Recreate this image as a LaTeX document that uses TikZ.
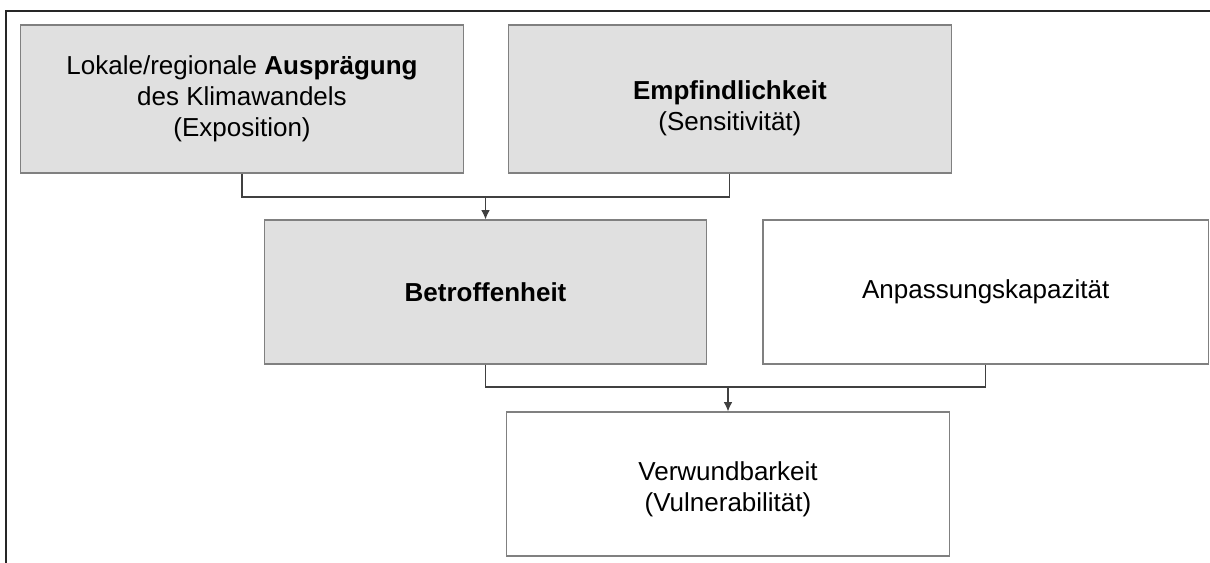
\documentclass[tikz,border=0pt]{standalone}
\usepackage{fontspec}
\setmainfont{Liberation Sans}
\usepackage{tikz}
\usetikzlibrary{positioning}
\usetikzlibrary{arrows.meta}

\definecolor{boxgrey}{RGB}{224,224,224}
\definecolor{rimgrey}{RGB}{128,128,128}
\definecolor{linegrey}{RGB}{64,64,64}

\begin{document}
\begin{tikzpicture}[x=0.75pt,y=-0.75pt,>={Latex[length=7pt,width=6.5pt]},
	font=\fontsize{19.5}{23.25}\selectfont,
	main node/.style={rectangle,draw=rimgrey,line width=0.9pt,align=center,
		minimum width=332pt,minimum height=108pt,inner sep=0pt},
	grey node/.style={main node,fill=boxgrey},
	link/.style={draw=linegrey,line width=0.9pt}]
	
	\useasboundingbox (0,0) rectangle (1210,563);
	\draw[line width=1.5pt,black!85] (6,563) |- (1210,11);
	
	\node[grey node,minimum height=111pt] (expo) at (242,99)
		{Lokale/regionale \textbf{Ausprägung}\\des Klimawandels\\(Exposition)};
	% taller first line pushes the two lines a bit down
	\node[grey node,minimum height=111pt] (sens) [right=33pt of expo]
		{\rule{0pt}{28pt}\textbf{Empfindlichkeit}\\(Sensitivität)};
	\node[grey node] (betr) at (485.5,292) {\textbf{Betroffenheit}};
	\node[main node,minimum width=334pt] (anp) [right=41.25pt of betr] {Anpassungskapazität};
	\node[main node] (verw) at (728,484) {\rule{0pt}{21.5pt}Verwundbarkeit\\(Vulnerabilität)};
	
	\coordinate (top join) at (485.5,197);
	\coordinate (bottom join) at (728,387);
	
	\path[link]
	(expo.south) |- (top join) -| (sens.south)
	(betr.south) |- (bottom join) -| (anp.south);
	\draw[link,->] (top join) -- (betr.north);
	\draw[link,->] (bottom join) -- (verw.north);
\end{tikzpicture}
\end{document}
